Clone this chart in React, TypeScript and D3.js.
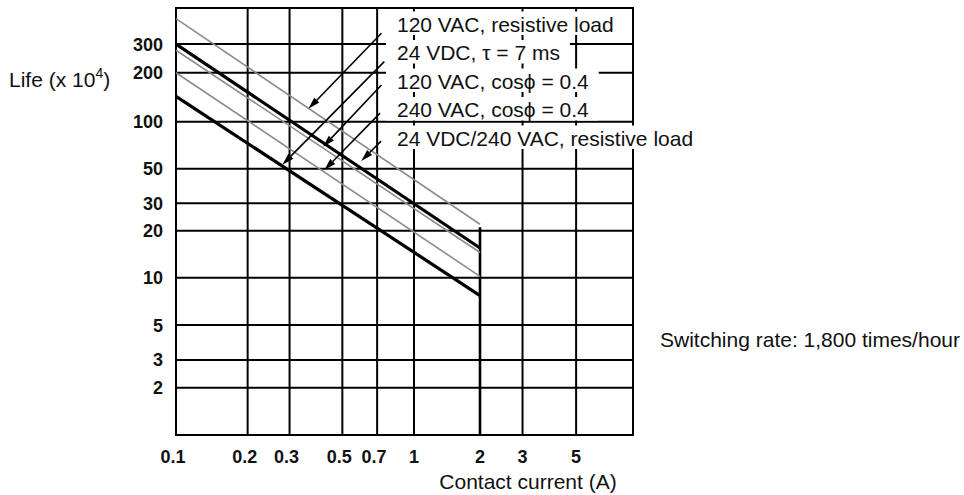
import React, { useEffect, useRef } from "react";
import * as d3 from "d3";

// ---- data ----
const xTicks = [0.2, 0.3, 0.5, 0.7, 1, 2, 3, 5];
const xTickLabelValues = [0.1, 0.2, 0.3, 0.5, 0.7, 1, 2, 3, 5];
const xTickLabels = ["0.1", "0.2", "0.3", "0.5", "0.7", "1", "2", "3", "5"];
const yTicks = [300, 200, 100, 50, 30, 20, 10, 5, 3, 2];
const yTickLabels = ["300", "200", "100", "50", "30", "20", "10", "5", "3", "2"];

const seriesNames = [
  "120 VAC, resistive load",
  "24 VDC, \u03c4 = 7 ms",
  "120 VAC, cos\u03d5 = 0.4",
  "240 VAC, cos\u03d5 = 0.4",
  "24 VDC/240 VAC, resistive load",
];
const currents = [0.1, 2];
const life120VacRes = [430, 22];
const life24VdcTau = [143, 7.7];
const life120VacCos = [275, 14.5];
const life240VacCos = [200, 10.2];
const life24Vdc240VacRes = [300, 15.5];

// arrow annotations (data coordinates: current, life)
const arrowStart = [
  [0.73, 350],
  [0.75, 234],
  [0.73, 168],
  [0.72, 113],
  [0.727, 75],
];
const arrowTip = [
  [0.36, 120],
  [0.28, 53],
  [0.415, 69],
  [0.42, 49],
  [0.6, 56],
];

export default function App() {
  const ref = useRef<SVGSVGElement>(null);
  useEffect(() => {
    const svg = d3.select(ref.current);
    svg.selectAll("*").remove();
    const font = "'Liberation Sans', Arial, Helvetica, sans-serif";

    const x = d3.scaleLog().domain([0.1, 1, 2, 8.6]).range([176, 414, 480, 633]);
    const y = d3.scaleLog().domain([1, 10, 100, 500]).range([435, 277.7, 121.7, 8]);
    const [x0, x1] = [x(0.1), x(8.6)];
    const [y0, y1] = [y(1), y(500)];
    const maxEnd = Math.max(
      life120VacRes[1],
      life24VdcTau[1],
      life120VacCos[1],
      life240VacCos[1],
      life24Vdc240VacRes[1]
    );

    const g = svg.append("g");

    // horizontal grid
    g.selectAll("line.h")
      .data(yTicks)
      .join("line")
      .attr("x1", x0)
      .attr("x2", x1)
      .attr("y1", (d) => y(d))
      .attr("y2", (d) => y(d))
      .attr("stroke", "#000")
      .attr("stroke-width", 2);

    // vertical grid (the 2 A line only rises to the curve ends)
    g.selectAll("line.v")
      .data(xTicks)
      .join("line")
      .attr("x1", (d) => x(d))
      .attr("x2", (d) => x(d))
      .attr("y1", (d) => (d === 2 ? y(maxEnd) + 3 : y1))
      .attr("y2", y0)
      .attr("stroke", "#000")
      .attr("stroke-width", (d) => (d === 2 ? 2.6 : 2));

    // frame
    g.append("rect")
      .attr("x", x0)
      .attr("y", y1)
      .attr("width", x1 - x0)
      .attr("height", y0 - y1)
      .attr("fill", "none")
      .attr("stroke", "#000")
      .attr("stroke-width", 2);

    // curves
    const series = [
      { v: life120VacRes, thick: false },
      { v: life24VdcTau, thick: true },
      { v: life120VacCos, thick: false },
      { v: life240VacCos, thick: false },
      { v: life24Vdc240VacRes, thick: true },
    ];
    const line = d3
      .line<[number, number]>()
      .x((d) => x(d[0]))
      .y((d) => y(d[1]));
    series.forEach((s) => {
      const pts = currents.map((c, i) => [c, s.v[i]] as [number, number]);
      svg
        .append("path")
        .attr("d", line(pts))
        .attr("fill", "none")
        .attr("stroke", s.thick ? "#000" : "#8c8c8c")
        .attr("stroke-width", s.thick ? 3.2 : 1.6);
    });

    // labels with white backgrounds
    const labelX = 397;
    const baseline0 = 31.5;
    const step = 28.5;
    seriesNames.forEach((name, i) => {
      const by = baseline0 + i * step;
      const bg = svg.append("rect").attr("fill", "#fff");
      const t = svg
        .append("text")
        .attr("x", labelX)
        .attr("y", by)
        .attr("font-family", font)
        .attr("font-size", 21)
        .attr("fill", "#111")
        .text(name);
      const w = (t.node() as SVGTextElement).getComputedTextLength();
      bg.attr("x", labelX - 11)
        .attr("y", by - 20)
        .attr("width", w + 21)
        .attr("height", 23.5);
    });

    // arrows
    arrowStart.forEach((s, i) => {
      const sx = x(s[0]);
      const sy = y(s[1]);
      const tx = x(arrowTip[i][0]);
      const ty = y(arrowTip[i][1]);
      const dx = tx - sx;
      const dy = ty - sy;
      const len = Math.hypot(dx, dy);
      const ux = dx / len;
      const uy = dy / len;
      const L = 12;
      const hw = 3.5;
      const bx = tx - ux * L;
      const by = ty - uy * L;
      svg
        .append("line")
        .attr("x1", sx)
        .attr("y1", sy)
        .attr("x2", bx)
        .attr("y2", by)
        .attr("stroke", "#000")
        .attr("stroke-width", 1.6);
      svg
        .append("polygon")
        .attr(
          "points",
          `${tx},${ty} ${bx - uy * hw},${by + ux * hw} ${bx + uy * hw},${by - ux * hw}`
        )
        .attr("fill", "#000");
    });

    // y tick labels
    svg
      .selectAll("text.yt")
      .data(yTicks)
      .join("text")
      .attr("x", 163)
      .attr("y", (d) => y(d))
      .attr("dy", "0.36em")
      .attr("text-anchor", "end")
      .attr("font-family", font)
      .attr("font-weight", "bold")
      .attr("font-size", 18)
      .attr("fill", "#111")
      .text((d, i) => yTickLabels[i]);

    // x tick labels
    svg
      .selectAll("text.xt")
      .data(xTickLabelValues)
      .join("text")
      .attr("x", (d) => x(d) - (d < 1 ? 3 : 0))
      .attr("y", 463)
      .attr("text-anchor", "middle")
      .attr("font-family", font)
      .attr("font-weight", "bold")
      .attr("font-size", 18)
      .attr("fill", "#111")
      .text((d, i) => xTickLabels[i]);

    // axis titles
    const lt = svg
      .append("text")
      .attr("x", 9)
      .attr("y", 86.5)
      .attr("font-family", font)
      .attr("font-size", 21)
      .attr("fill", "#111");
    lt.append("tspan").text("Life (x 10");
    lt.append("tspan").attr("font-size", 14).attr("dy", -9).text("4");
    lt.append("tspan").attr("dy", 9).text(")");

    svg
      .append("text")
      .attr("x", 528)
      .attr("y", 489)
      .attr("text-anchor", "middle")
      .attr("font-family", font)
      .attr("font-size", 21)
      .attr("fill", "#111")
      .text("Contact current (A)");

    svg
      .append("text")
      .attr("x", 660)
      .attr("y", 347)
      .attr("font-family", font)
      .attr("font-size", 21)
      .attr("fill", "#111")
      .text("Switching rate: 1,800 times/hour");
  }, []);

  return (
    <svg
      ref={ref}
      width={964}
      height={495}
      style={{ position: "absolute", left: 0, top: 0, background: "#fff", display: "block" }}
    />
  );
}
